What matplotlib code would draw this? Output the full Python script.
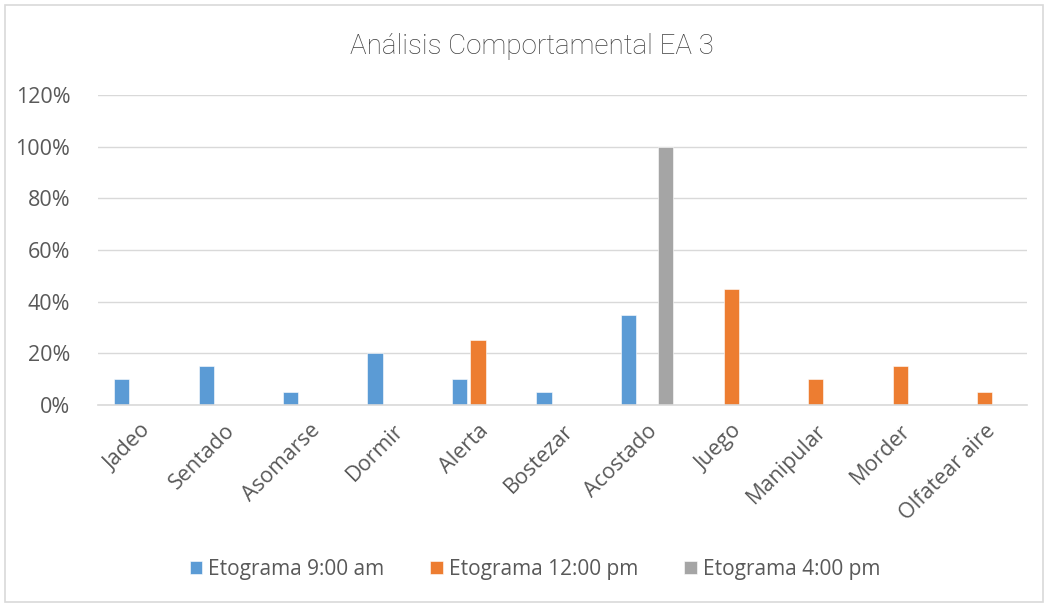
import matplotlib
matplotlib.use("Agg")
import matplotlib.pyplot as plt
from matplotlib.patches import Rectangle
import numpy as np

categories = ["Jadeo", "Sentado", "Asomarse", "Dormir", "Alerta", "Bostezar",
              "Acostado", "Juego", "Manipular", "Morder", "Olfatear aire"]
series_names = ["Etograma 9:00 am", "Etograma 12:00 pm", "Etograma 4:00 pm"]
s9 = [0.10, 0.15, 0.05, 0.20, 0.10, 0.05, 0.35, 0, 0, 0, 0]
s12 = [0, 0, 0, 0, 0.25, 0, 0, 0.45, 0.10, 0.15, 0.05]
s4 = [0, 0, 0, 0, 0, 0, 1.00, 0, 0, 0, 0]
colors = ["#5B9BD5", "#ED7D31", "#A5A5A5"]
yticks = [0, 0.2, 0.4, 0.6, 0.8, 1.0, 1.2]
ytick_labels = ["0%", "20%", "40%", "60%", "80%", "100%", "120%"]

plt.rcParams['font.family'] = ['Open Sans', 'DejaVu Sans']
txt = "#595959"

fig = plt.figure(figsize=(10.49, 6.06), dpi=100)
ax = fig.add_axes([98/1049, 1-405/606, (1027-98)/1049, (405-95)/606])

x = np.arange(len(categories))
w = 0.18
off = 0.22
for i, (vals, name, c) in enumerate(zip([s9, s12, s4], series_names, colors)):
    ax.bar(x + (i-1)*off, vals, width=w, color=c, label=name,
           edgecolor="white", linewidth=0.4)

ax.set_xlim(-0.5, len(categories)-0.5)
ax.set_ylim(0, 1.2)
ax.set_yticks(yticks)
ax.set_yticklabels(ytick_labels, color=txt, fontsize=15.5)
ax.set_xticks(x)
ax.set_xticklabels(categories, rotation=45, ha='right', rotation_mode='anchor',
                   color=txt, fontsize=15.5)
ax.tick_params(axis='both', length=0)
ax.tick_params(axis='y', pad=20)
ax.tick_params(axis='x', pad=11)
ax.grid(axis='y', color="#D9D9D9", linewidth=1)
ax.set_axisbelow(True)
for s in ["top", "right", "left"]:
    ax.spines[s].set_visible(False)
ax.spines["bottom"].set_color("#D9D9D9")
ax.spines["bottom"].set_linewidth(1.2)

fig.text(532/1049, 1-46/606, "Análisis Comportamental EA 3", ha='center', va='center',
         fontsize=20, color="#404040", family=['Roboto', 'DejaVu Sans'], fontweight='light')

leg = fig.legend(loc='center', bbox_to_anchor=(535/1049, 1-569/606), ncol=3,
                 frameon=False, fontsize=15, handlelength=0.6, handleheight=0.6,
                 handletextpad=0.3, columnspacing=2.2)
for t in leg.get_texts():
    t.set_color(txt)

fig.patches.append(Rectangle((5/1049, 4/606), 1038/1049, 597/606, transform=fig.transFigure,
                             fill=False, edgecolor="#D9D9D9", linewidth=1.2))
fig.savefig("out.png", dpi=100)
